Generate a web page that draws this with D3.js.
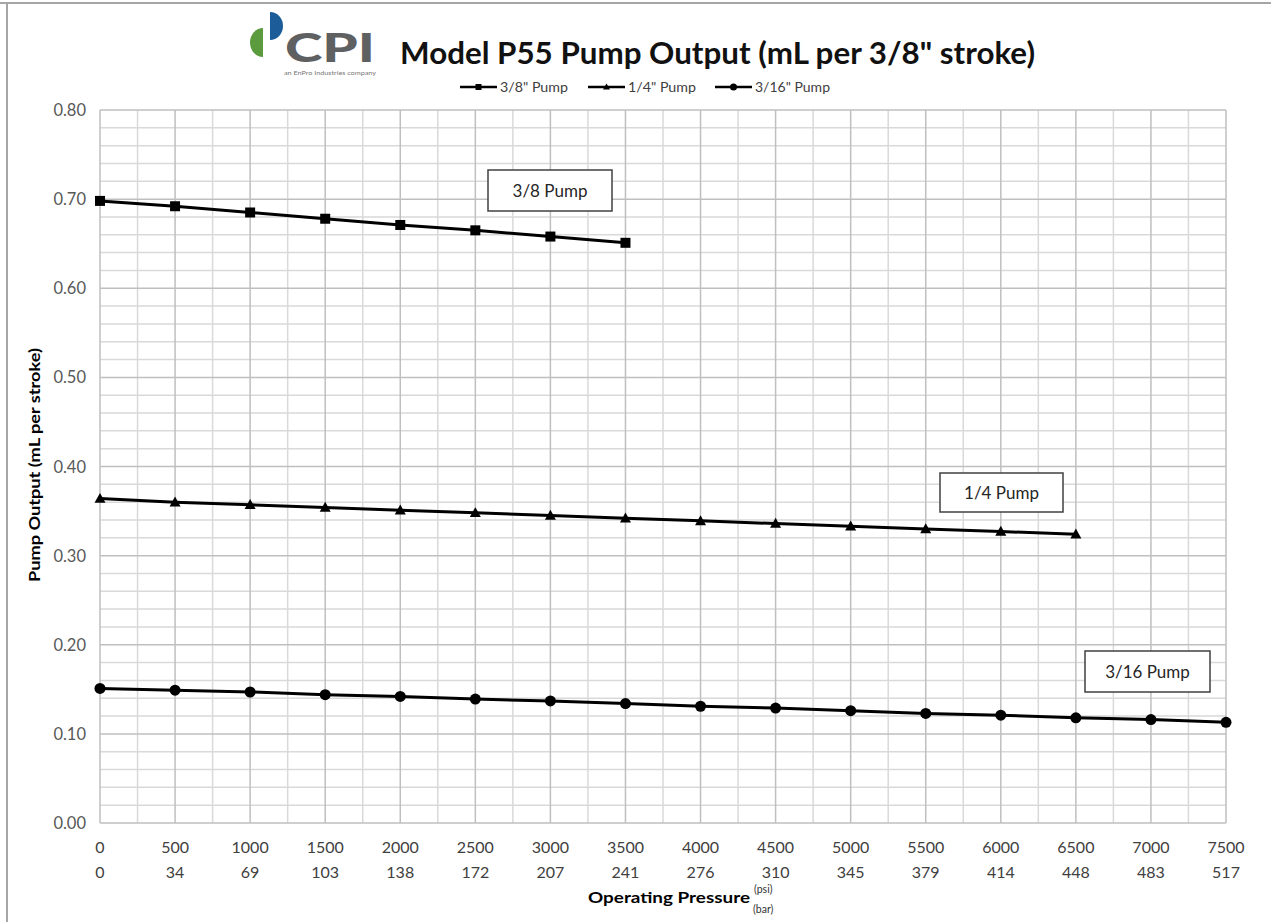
<!DOCTYPE html>
<html>
<head>
<meta charset="utf-8">
<script src="https://cdn.jsdelivr.net/npm/d3@7.9.0/dist/d3.min.js"></script>
<style>
  body { margin: 0; background: #fff; }
  svg { display: block; font-family: Lato, "Open Sans", sans-serif; }
</style>
</head>
<body>
<svg id="chart" width="1271" height="922"></svg>
<script>
// pressure steps (psi) and their bar equivalents
const psi = [0, 500, 1000, 1500, 2000, 2500, 3000, 3500, 4000, 4500, 5000, 5500, 6000, 6500, 7000, 7500];
const bar = [0, 34, 69, 103, 138, 172, 207, 241, 276, 310, 345, 379, 414, 448, 483, 517];

// pump output, mL per stroke
const pump38 = [0.698, 0.692, 0.685, 0.678, 0.671, 0.665, 0.658, 0.651];
const pump14 = [0.364, 0.360, 0.357, 0.354, 0.351, 0.348, 0.345, 0.342, 0.339, 0.336, 0.333, 0.330, 0.327, 0.324];
const pump316 = [0.151, 0.149, 0.147, 0.144, 0.142, 0.139, 0.137, 0.134, 0.131, 0.129, 0.126, 0.123, 0.121, 0.118, 0.116, 0.113];

const yTicks = [0, 0.1, 0.2, 0.3, 0.4, 0.5, 0.6, 0.7, 0.8];

const series = [
  { name: '3/8" Pump', label: '3/8 Pump', values: pump38, marker: 'square', box: [488, 170, 124, 41] },
  { name: '1/4" Pump', label: '1/4 Pump', values: pump14, marker: 'triangle', box: [940, 473, 123, 39] },
  { name: '3/16" Pump', label: '3/16 Pump', values: pump316, marker: 'circle', box: [1085, 651, 125, 41] }
];

const svg = d3.select('#chart');
const margin = { left: 100, right: 1226, top: 110, bottom: 823 };

const x = d3.scaleLinear().domain([0, 7500]).range([margin.left, margin.right]);
const y = d3.scaleLinear().domain([0, 0.8]).range([margin.bottom, margin.top]);

// frame lines of the original picture
svg.append('line').attr('x1', 0).attr('x2', 1271).attr('y1', 3).attr('y2', 3)
  .attr('stroke', '#a6a6a6').attr('stroke-width', 2);
svg.append('line').attr('x1', 7).attr('x2', 7).attr('y1', 3).attr('y2', 922)
  .attr('stroke', '#a6a6a6').attr('stroke-width', 2);

// grid
const grid = svg.append('g');
grid.selectAll('.vminor')
  .data(d3.range(250, 7500, 500))
  .join('line')
  .attr('x1', d => x(d)).attr('x2', d => x(d))
  .attr('y1', y(0)).attr('y2', y(0.8))
  .attr('stroke', '#d9d9d9').attr('stroke-width', 1.5);
grid.selectAll('.hminor')
  .data(d3.range(0, 0.8, 0.02).filter((d, i) => i % 5 !== 0))
  .join('line')
  .attr('x1', x(0)).attr('x2', x(7500))
  .attr('y1', d => y(d)).attr('y2', d => y(d))
  .attr('stroke', '#d9d9d9').attr('stroke-width', 1.5);
grid.selectAll('.vmajor')
  .data(psi)
  .join('line')
  .attr('x1', d => x(d)).attr('x2', d => x(d))
  .attr('y1', y(0)).attr('y2', y(0.8))
  .attr('stroke', '#bfbfbf').attr('stroke-width', 1.5);
grid.selectAll('.hmajor')
  .data(yTicks)
  .join('line')
  .attr('x1', x(0)).attr('x2', x(7500))
  .attr('y1', d => y(d)).attr('y2', d => y(d))
  .attr('stroke', '#bfbfbf').attr('stroke-width', 1.5);

// y axis labels
svg.append('g').selectAll('text')
  .data(yTicks)
  .join('text')
  .attr('x', 86).attr('y', d => y(d) + 6)
  .attr('text-anchor', 'end')
  .attr('font-size', 16.5).attr('fill', '#595959')
  .text(d => d.toFixed(2));

// x axis labels, psi row and bar row
const xl = svg.append('g').attr('font-size', 16).attr('fill', '#404040').attr('text-anchor', 'middle');
xl.selectAll('.psi').data(psi).join('text')
  .attr('x', d => x(d)).attr('y', 853).text(d => d);
xl.selectAll('.bar').data(psi).join('text')
  .attr('x', d => x(d)).attr('y', 878).text((d, i) => bar[i]);

// axis titles
svg.append('text')
  .attr('transform', 'translate(40,465) rotate(-90)')
  .attr('text-anchor', 'middle')
  .attr('font-size', 15).attr('font-weight', 'bold').attr('fill', '#000')
  .attr('textLength', 234).attr('lengthAdjust', 'spacingAndGlyphs')
  .text('Pump Output (mL per stroke)');
svg.append('text')
  .attr('x', 588).attr('y', 903)
  .attr('font-size', 15).attr('font-weight', 'bold')
  .attr('textLength', 162).attr('lengthAdjust', 'spacingAndGlyphs')
  .text('Operating Pressure');
svg.append('text').attr('x', 754).attr('y', 893).attr('font-size', 10.5).attr('fill', '#333').text('(psi)');
svg.append('text').attr('x', 753).attr('y', 913).attr('font-size', 10.5).attr('fill', '#333').text('(bar)');

// markers
function drawMarker(g, type, cx, cy, s) {
  if (type === 'square') {
    g.append('rect').attr('x', cx - s / 2).attr('y', cy - s / 2).attr('width', s).attr('height', s).attr('fill', '#000');
  } else if (type === 'triangle') {
    const h = s * 0.95;
    g.append('path')
      .attr('d', `M${cx},${cy - h * 0.6}L${cx + s / 2 + 0.5},${cy + h * 0.45}L${cx - s / 2 - 0.5},${cy + h * 0.45}Z`)
      .attr('fill', '#000');
  } else {
    g.append('circle').attr('cx', cx).attr('cy', cy).attr('r', s / 2 + 0.5).attr('fill', '#000');
  }
}

const line = d3.line().x((d, i) => x(psi[i])).y(d => y(d));
series.forEach(s => {
  const g = svg.append('g');
  g.append('path')
    .datum(s.values)
    .attr('d', line)
    .attr('fill', 'none').attr('stroke', '#000').attr('stroke-width', 3);
  s.values.forEach((v, i) => drawMarker(g, s.marker, x(psi[i]), y(v), 10));

  // annotation box
  const [bx, by, bw, bh] = s.box;
  g.append('rect').attr('x', bx).attr('y', by).attr('width', bw).attr('height', bh)
    .attr('fill', '#fff').attr('stroke', '#404040').attr('stroke-width', 1.5);
  g.append('text').attr('x', bx + bw / 2).attr('y', by + bh / 2 + 6)
    .attr('text-anchor', 'middle').attr('font-size', 17).attr('fill', '#262626')
    .text(s.label);
});

// legend
const legendX = [460, 588, 715];
const legendW = [68, 68, 75];
series.forEach((s, i) => {
  const g = svg.append('g').attr('transform', `translate(${legendX[i]},87)`);
  g.append('line').attr('x1', 0).attr('x2', 37).attr('stroke', '#000').attr('stroke-width', 2.5);
  drawMarker(g, s.marker, 18.5, 0, 6);
  g.append('text').attr('x', 40).attr('y', 4.5).attr('font-size', 13).attr('fill', '#404040')
    .attr('textLength', legendW[i]).attr('lengthAdjust', 'spacingAndGlyphs')
    .text(s.name);
});

// title
svg.append('text')
  .attr('x', 400).attr('y', 64)
  .attr('font-size', 31).attr('font-weight', 'bold').attr('fill', '#111')
  .attr('textLength', 635).attr('lengthAdjust', 'spacingAndGlyphs')
  .text('Model P55 Pump Output (mL per 3/8" stroke)');

// logo
const logo = svg.append('g');
logo.append('path').attr('d', 'M263,28 A13,14.5 0 0 0 263,57 Z').attr('fill', '#5b9b3e');
logo.append('path').attr('d', 'M270,12 A13,14 0 0 1 270,40 Z').attr('fill', '#1c5c99');
logo.append('text').attr('x', 285).attr('y', 62)
  .attr('font-size', 40).attr('font-weight', 900).attr('fill', '#5f6062')
  .attr('textLength', 90).attr('lengthAdjust', 'spacingAndGlyphs')
  .text('CPI');
logo.append('text').attr('x', 284).attr('y', 75)
  .attr('font-size', 6).attr('fill', '#777')
  .attr('textLength', 92).attr('lengthAdjust', 'spacingAndGlyphs')
  .text('an EnPro Industries company');
</script>
</body>
</html>
